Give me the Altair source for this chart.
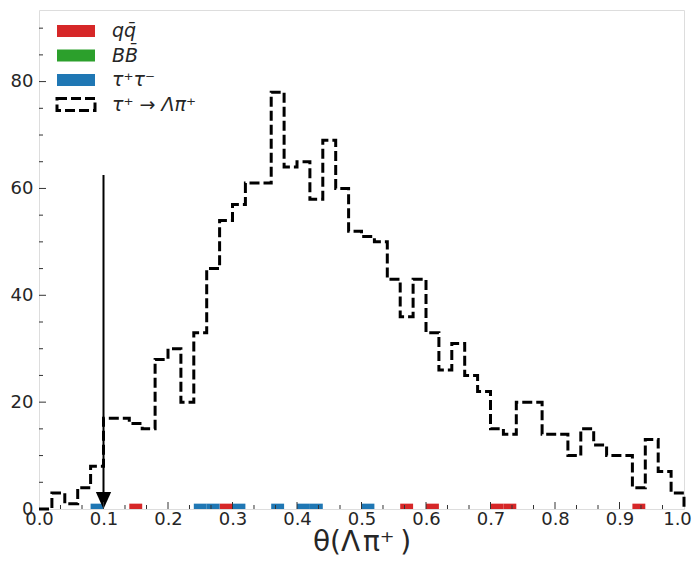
import altair as alt
import pandas as pd

# ---- data ----
bin_width = 0.02
signal_counts = [0, 3, 1, 4, 8, 17, 17, 16, 15, 28,
                 30, 20, 33, 45, 54, 57, 61, 61, 78, 64,
                 65, 58, 69, 60, 52, 51, 50, 43, 36, 43,
                 33, 26, 31, 25, 22, 15, 14, 20, 20, 14,
                 14, 10, 15, 12, 10, 10, 4, 13, 7, 3]
qq_bins = [0.14, 0.28, 0.56, 0.60, 0.70, 0.72, 0.92]
qq_counts = [1, 1, 1, 1, 1, 1, 1]
bb_bins = []
bb_counts = []
tautau_bins = [0.08, 0.24, 0.26, 0.30, 0.36, 0.40, 0.42, 0.50]
tautau_counts = [1, 1, 1, 1, 1, 1, 1, 1]
arrow_x = [0.1]
arrow_top = [62.5]
arrow_bottom = [3.0]
x_ticks = [0.0, 0.1, 0.2, 0.3, 0.4, 0.5, 0.6, 0.7, 0.8, 0.9, 1.0]
y_ticks = [0, 20, 40, 60, 80]
legend_labels = ["q\u0071\u0304", "B\u0042\u0304", "\u03c4\u207a\u03c4\u207b", "\u03c4\u207a \u2192 \u039b\u03c0\u207a"]
legend_colors = ["#d62728", "#2ca02c", "#1f77b4"]
x_title = "\u03b8(\u039b\u200a\u03c0\u207a\u2009)"

# ---- build tables ----
n = len(signal_counts)
edges = [round(i * bin_width, 4) for i in range(n + 1)]
step_df = pd.DataFrame({"x": edges, "y": signal_counts + [0]})

bg_rows = []
for name, bins, cnts in [("qq", qq_bins, qq_counts), ("BB", bb_bins, bb_counts), ("tautau", tautau_bins, tautau_counts)]:
    for b, c in zip(bins, cnts):
        bg_rows.append({"proc": name, "x0": b, "x1": round(b + bin_width, 4), "y0": 0, "y1": c})
bg_df = pd.DataFrame(bg_rows)

arrow_df = pd.DataFrame({"x": arrow_x, "y": arrow_top, "y2": arrow_bottom, "base": [0]})

y_minor = [v for v in range(5, 95, 5) if v % 20 != 0]
y_major = [v for v in y_ticks if v > 0]
x_minor = [round(i / 30, 5) for i in range(1, 30) if i % 3 != 0]
x_major = [v for v in x_ticks if 0 < v < 1]

W, H = 645, 499
XMAX, YMAX = 1.0, 93.4
font = "DejaVu Sans"
tick_col = "#333333"

xscale = alt.Scale(domain=[0, XMAX], nice=False, zero=False)
yscale = alt.Scale(domain=[0, YMAX], nice=False)

xaxis = alt.Axis(values=x_ticks, format=".1f", ticks=False, domain=False, grid=False,
                 labelFont=font, labelFontSize=18, labelColor="#262626", labelPadding=1,
                 labelFlush=False, labelOverlap=False,
                 labelOffset={"condition": {"test": "datum.value >= 1", "value": -7}, "value": 0},
                 title=x_title, titleFont=font, titleFontSize=28, titleFontWeight="normal",
                 titleColor="#262626", titleBaseline="alphabetic", titleY=41)
yaxis = alt.Axis(values=y_ticks, format="d", ticks=False, domain=False, grid=False,
                 labelFont=font, labelFontSize=18, labelColor="#262626", labelPadding=6,
                 labelFlush=False, labelOverlap=False, title=None)

color_map = alt.Scale(domain=["qq", "BB", "tautau"], range=legend_colors)

bars = alt.Chart(bg_df).mark_rect().encode(
    x=alt.X("x0:Q", scale=xscale, axis=xaxis),
    x2="x1:Q",
    y=alt.Y("y0:Q", scale=yscale, axis=yaxis),
    y2="y1:Q",
    color=alt.Color("proc:N", scale=color_map, legend=None),
)

step = alt.Chart(step_df).mark_line(
    interpolate="step-after", color="black", strokeWidth=3, strokeDash=[10, 4]
).encode(x=alt.X("x:Q", scale=xscale), y=alt.Y("y:Q", scale=yscale))

arrow_line = alt.Chart(arrow_df).mark_rule(color="black", strokeWidth=2).encode(
    x=alt.X("x:Q", scale=xscale), y=alt.Y("y:Q", scale=yscale), y2="y2:Q")
arrow_head = alt.Chart(arrow_df).mark_point(
    shape="M-0.9,-1L0.9,-1L0,1Z", filled=True, color="black", opacity=1, size=289, yOffset=-8.5
).encode(x=alt.X("x:Q", scale=xscale), y=alt.Y("base:Q", scale=yscale))

# inward ticks
ytick_minor = alt.Chart(pd.DataFrame({"v": y_minor})).mark_rule(color=tick_col, strokeWidth=1).encode(
    y=alt.Y("v:Q", scale=yscale), x=alt.value(0), x2=alt.value(4))
ytick_major = alt.Chart(pd.DataFrame({"v": y_major})).mark_rule(color=tick_col, strokeWidth=1).encode(
    y=alt.Y("v:Q", scale=yscale), x=alt.value(0), x2=alt.value(7))
xtick_minor = alt.Chart(pd.DataFrame({"v": x_minor})).mark_rule(color=tick_col, strokeWidth=1).encode(
    x=alt.X("v:Q", scale=xscale), y=alt.value(H), y2=alt.value(H - 4))
xtick_major = alt.Chart(pd.DataFrame({"v": x_major})).mark_rule(color=tick_col, strokeWidth=1).encode(
    x=alt.X("v:Q", scale=xscale), y=alt.value(H), y2=alt.value(H - 7))

# manual legend
one = pd.DataFrame({"a": [0]})
legend_layers = []
for i, lab in enumerate(legend_labels):
    cy = 21 + 24.5 * i
    if i < len(legend_colors):
        legend_layers.append(alt.Chart(one).mark_rect(color=legend_colors[i]).encode(
            x=alt.value(18), x2=alt.value(56), y=alt.value(cy - 6), y2=alt.value(cy + 6)))
    else:
        legend_layers.append(alt.Chart(one).mark_rect(
            fill="transparent", stroke="black", strokeWidth=3, strokeDash=[10, 4]).encode(
            x=alt.value(18), x2=alt.value(56), y=alt.value(cy - 6), y2=alt.value(cy + 6)))
    legend_layers.append(alt.Chart(one).mark_text(
        align="left", baseline="middle", font=font, fontSize=19, fontStyle="italic", color="#262626").encode(
        x=alt.value(73), y=alt.value(cy), text=alt.value(lab)))

chart = alt.layer(
    bars, step, arrow_line, arrow_head,
    ytick_minor, ytick_major, xtick_minor, xtick_major,
    *legend_layers
).properties(
    width=W, height=H,
    autosize=alt.AutoSizeParams(type="none"),
    padding={"left": 31, "top": 2, "right": 8, "bottom": 47},
).configure_view(stroke="#222222", strokeWidth=1.3).configure(background="white")

chart.save("out.html", embed_options={"renderer": "svg", "actions": False})
